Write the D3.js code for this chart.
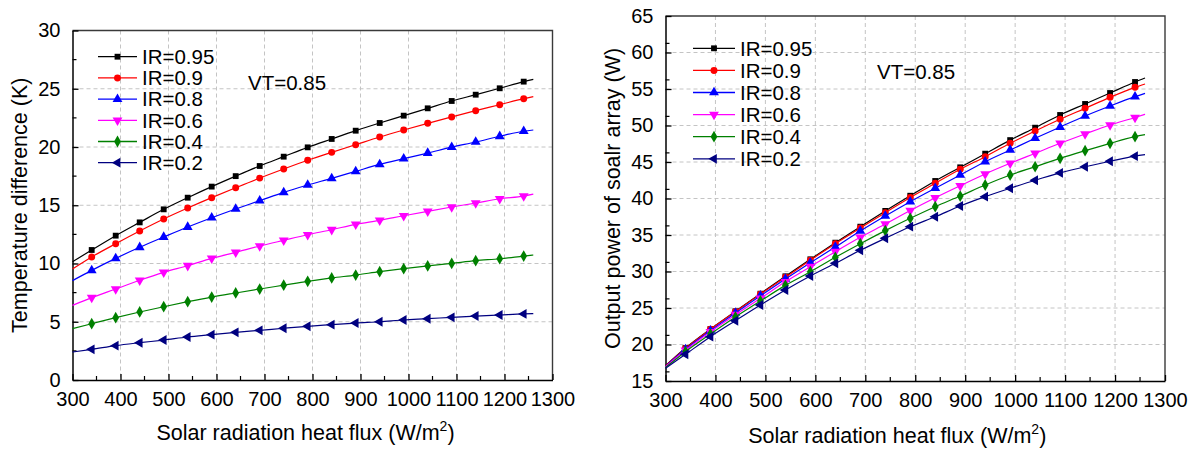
<!DOCTYPE html>
<html>
<head>
<meta charset="utf-8">
<script src="https://cdn.jsdelivr.net/npm/d3@7"></script>
<style>
  body { margin: 0; background: #fff; }
  svg text { font-family: "Liberation Sans", Arial, sans-serif; fill: #000; }
</style>
</head>
<body>
<div id="chart"></div>
<script>

// heat flux points (first and last are line ends only, no marker)
var flux = [300, 340, 390, 440, 490, 540, 590, 640, 690, 740, 790, 840, 890, 940, 990, 1040, 1090, 1140, 1190, 1240, 1260];
var irLabels = ["IR=0.95", "IR=0.9", "IR=0.8", "IR=0.6", "IR=0.4", "IR=0.2"];

// left: temperature difference (K)
var dT_095 = [10.15, 11.16, 12.39, 13.53, 14.65, 15.65, 16.6, 17.5, 18.37, 19.17, 19.97, 20.69, 21.4, 22.06, 22.69, 23.32, 23.95, 24.49, 25.04, 25.61, 25.8];
var dT_09  = [9.53, 10.56, 11.7, 12.79, 13.82, 14.76, 15.65, 16.5, 17.33, 18.11, 18.86, 19.54, 20.2, 20.86, 21.46, 22.03, 22.58, 23.12, 23.63, 24.15, 24.32];
var dT_08  = [8.53, 9.41, 10.44, 11.39, 12.27, 13.13, 13.93, 14.68, 15.39, 16.11, 16.74, 17.31, 17.91, 18.51, 19.0, 19.48, 19.99, 20.43, 20.92, 21.35, 21.46];
var dT_06  = [6.41, 7.07, 7.81, 8.56, 9.24, 9.81, 10.44, 10.96, 11.5, 11.99, 12.47, 12.9, 13.36, 13.7, 14.1, 14.48, 14.85, 15.19, 15.56, 15.79, 15.95];
var dT_04  = [4.41, 4.83, 5.35, 5.84, 6.29, 6.72, 7.12, 7.47, 7.81, 8.14, 8.47, 8.76, 9.01, 9.3, 9.56, 9.79, 10.01, 10.24, 10.41, 10.64, 10.73];
var dT_02  = [2.4, 2.63, 2.95, 3.2, 3.43, 3.69, 3.89, 4.09, 4.26, 4.44, 4.61, 4.75, 4.89, 5.0, 5.15, 5.26, 5.38, 5.49, 5.58, 5.67, 5.69];

// right: output power of solar array (W)
var P_095 = [17.1, 19.52, 22.12, 24.55, 26.96, 29.34, 31.67, 33.95, 36.14, 38.3, 40.38, 42.4, 44.27, 46.14, 48.0, 49.7, 51.44, 52.95, 54.45, 55.96, 56.5];
var P_09  = [17.07, 19.47, 22.08, 24.5, 26.9, 29.2, 31.55, 33.8, 35.95, 38.06, 40.15, 42.08, 44.0, 45.73, 47.56, 49.25, 50.85, 52.35, 53.86, 55.23, 55.68];
var P_08  = [17.0, 19.34, 21.9, 24.32, 26.68, 28.97, 31.2, 33.36, 35.55, 37.6, 39.56, 41.4, 43.22, 45.04, 46.64, 48.25, 49.79, 51.3, 52.67, 53.95, 54.4];
var P_06  = [16.95, 19.2, 21.75, 24.08, 26.32, 28.6, 30.66, 32.71, 34.68, 36.5, 38.35, 40.1, 41.75, 43.36, 44.82, 46.19, 47.56, 48.84, 50.07, 51.1, 51.54];
var P_04  = [16.85, 19.02, 21.44, 23.77, 25.96, 28.1, 29.97, 31.94, 33.81, 35.6, 37.29, 38.88, 40.34, 41.85, 43.22, 44.36, 45.5, 46.55, 47.56, 48.47, 48.74];
var P_02  = [16.74, 18.65, 21.07, 23.26, 25.41, 27.47, 29.38, 31.12, 32.9, 34.55, 36.14, 37.5, 38.97, 40.25, 41.4, 42.5, 43.5, 44.35, 45.1, 45.8, 46.0];

var xTicks = [300, 400, 500, 600, 700, 800, 900, 1000, 1100, 1200, 1300];
var leftYTicks = [0, 5, 10, 15, 20, 25, 30];
var rightYTicks = [15, 20, 25, 30, 35, 40, 45, 50, 55, 60, 65];

var colors = ["#000000", "#ff0000", "#0000ff", "#ff00ff", "#008000", "#000080"];
// marker: [symbol type, size, rotation]
var markers = [
    [d3.symbolSquare, 34, 0],
    [d3.symbolCircle, 38, 0],
    [d3.symbolTriangle, 42, 0],
    [d3.symbolTriangle, 42, 180],
    [d3.symbolDiamond, 40, 0],
    [d3.symbolTriangle, 42, -90]
];

var W = 1197, H = 450;

var svg = d3.select("#chart")
    .append("svg")
    .attr("width", W)
    .attr("height", H);

function drawPanel(cfg) {

    var x = d3.scaleLinear().domain([300, 1300]).range([cfg.left, cfg.right]);
    var y = d3.scaleLinear().domain(cfg.yDomain).range([cfg.bottom, cfg.top]);

    var g = svg.append("g");

    // dashed grid
    g.selectAll("line.vgrid")
        .data(xTicks.slice(1, -1))
        .enter()
        .append("line")
        .attr("x1", function (d) { return x(d); })
        .attr("x2", function (d) { return x(d); })
        .attr("y1", cfg.top)
        .attr("y2", cfg.bottom)
        .style("stroke", "#c4c4c4")
        .style("stroke-width", 1)
        .style("stroke-dasharray", "4,3");

    g.selectAll("line.hgrid")
        .data(cfg.yTicks.slice(1, -1))
        .enter()
        .append("line")
        .attr("x1", cfg.left)
        .attr("x2", cfg.right)
        .attr("y1", function (d) { return y(d); })
        .attr("y2", function (d) { return y(d); })
        .style("stroke", "#c4c4c4")
        .style("stroke-width", 1)
        .style("stroke-dasharray", "4,3");

    // frame (top + right)
    g.append("path")
        .attr("d", "M" + cfg.left + "," + cfg.top + "H" + cfg.right + "V" + cfg.bottom)
        .style("fill", "none")
        .style("stroke", "#3a3a3a")
        .style("stroke-width", 1.4);

    // bottom axis, ticks inward
    var minorX = d3.range(350, 1300, 100);
    var xAxis = g.append("g")
        .attr("transform", "translate(0," + cfg.bottom + ")")
        .call(d3.axisBottom(x).tickValues(xTicks).tickFormat(d3.format("d"))
            .tickSize(-6).tickPadding(12).tickSizeOuter(0));
    xAxis.select(".domain").style("stroke-width", 1.5);
    xAxis.selectAll(".tick line").style("stroke-width", 1.3);
    xAxis.selectAll(".tick text").style("font-size", "20px").attr("font-family", null);

    g.selectAll("line.minx")
        .data(minorX)
        .enter()
        .append("line")
        .attr("x1", function (d) { return x(d); })
        .attr("x2", function (d) { return x(d); })
        .attr("y1", cfg.bottom)
        .attr("y2", cfg.bottom - 4)
        .style("stroke", "#000")
        .style("stroke-width", 1.2);

    // left axis, ticks inward
    var yAxis = g.append("g")
        .attr("transform", "translate(" + cfg.left + ",0)")
        .call(d3.axisLeft(y).tickValues(cfg.yTicks).tickSize(-6).tickPadding(12).tickSizeOuter(0));
    yAxis.select(".domain").style("stroke-width", 1.5);
    yAxis.selectAll(".tick line").style("stroke-width", 1.3);
    yAxis.selectAll(".tick text").style("font-size", "20px").attr("font-family", null);

    var minorY = cfg.yTicks.slice(0, -1).map(function (d) { return d + cfg.yStep / 2; });
    g.selectAll("line.miny")
        .data(minorY)
        .enter()
        .append("line")
        .attr("x1", cfg.left)
        .attr("x2", cfg.left + 4)
        .attr("y1", function (d) { return y(d); })
        .attr("y2", function (d) { return y(d); })
        .style("stroke", "#000")
        .style("stroke-width", 1.2);

    // series
    var line = d3.line()
        .x(function (d) { return x(d[0]); })
        .y(function (d) { return y(d[1]); })
        .curve(d3.curveMonotoneX);

    cfg.series.forEach(function (vals, i) {
        var pts = flux.map(function (f, k) { return [f, vals[k]]; });

        g.append("path")
            .datum(pts)
            .attr("d", line)
            .style("fill", "none")
            .style("stroke", colors[i])
            .style("stroke-width", 1.2);

        g.selectAll("path.mk" + i)
            .data(pts.slice(1, -1))
            .enter()
            .append("path")
            .attr("class", "mk" + i)
            .attr("d", d3.symbol().type(markers[i][0]).size(markers[i][1]))
            .attr("transform", function (d) {
                return "translate(" + x(d[0]) + "," + y(d[1]) + ") rotate(" + markers[i][2] + ")";
            })
            .style("fill", colors[i]);
    });

    // legend
    var lg = g.selectAll("g.leg")
        .data(irLabels)
        .enter()
        .append("g")
        .attr("transform", function (d, i) {
            return "translate(" + cfg.legX + "," + (cfg.legY + i * cfg.legStep) + ")";
        });

    lg.append("line")
        .attr("x1", 0)
        .attr("x2", cfg.legLen)
        .style("stroke", function (d, i) { return colors[i]; })
        .style("stroke-width", 1.3);

    lg.append("path")
        .attr("d", function (d, i) { return d3.symbol().type(markers[i][0]).size(markers[i][1])(); })
        .attr("transform", function (d, i) {
            return "translate(" + cfg.legLen / 2 + ",0) rotate(" + markers[i][2] + ")";
        })
        .style("fill", function (d, i) { return colors[i]; });

    lg.append("text")
        .attr("x", cfg.legLen + 5)
        .attr("dy", "0.36em")
        .style("font-size", "20.5px")
        .text(function (d) { return d; });

    g.append("text")
        .attr("x", cfg.vtX)
        .attr("y", cfg.vtY)
        .attr("dy", "0.36em")
        .style("font-size", "20.5px")
        .text("VT=0.85");

    // axis titles
    var xt = g.append("text")
        .attr("x", (cfg.left + cfg.right) / 2 + cfg.xTitleShift)
        .attr("y", cfg.xTitleY)
        .attr("text-anchor", "middle")
        .style("font-size", "21.5px");
    xt.append("tspan").text("Solar radiation heat flux (W/m");
    xt.append("tspan").attr("dy", -9).style("font-size", "14px").text("2");
    xt.append("tspan").attr("dy", 9).text(")");

    g.append("text")
        .attr("transform", "translate(" + cfg.yTitleX + "," + ((cfg.top + cfg.bottom) / 2) + ") rotate(-90)")
        .attr("text-anchor", "middle")
        .style("font-size", "21.5px")
        .text(cfg.yTitle);
}

drawPanel({
    left: 72.5, right: 552.5, top: 30.5, bottom: 380,
    yDomain: [0, 30], yTicks: leftYTicks, yStep: 5,
    series: [dT_095, dT_09, dT_08, dT_06, dT_04, dT_02],
    legX: 98, legY: 56.7, legStep: 21.2, legLen: 39,
    vtX: 248, vtY: 83,
    xTitleY: 440, xTitleShift: -7, yTitleX: 27,
    yTitle: "Temperature difference (K)"
});

drawPanel({
    left: 665.5, right: 1165, top: 16, bottom: 381,
    yDomain: [15, 65], yTicks: rightYTicks, yStep: 2.5,
    series: [P_095, P_09, P_08, P_06, P_04, P_02],
    legX: 693, legY: 48.3, legStep: 22.1, legLen: 42,
    vtX: 877, vtY: 72,
    xTitleY: 443, xTitleShift: -18, yTitleX: 620,
    yTitle: "Output power of soalr array (W)"
});

</script>
</body>
</html>
